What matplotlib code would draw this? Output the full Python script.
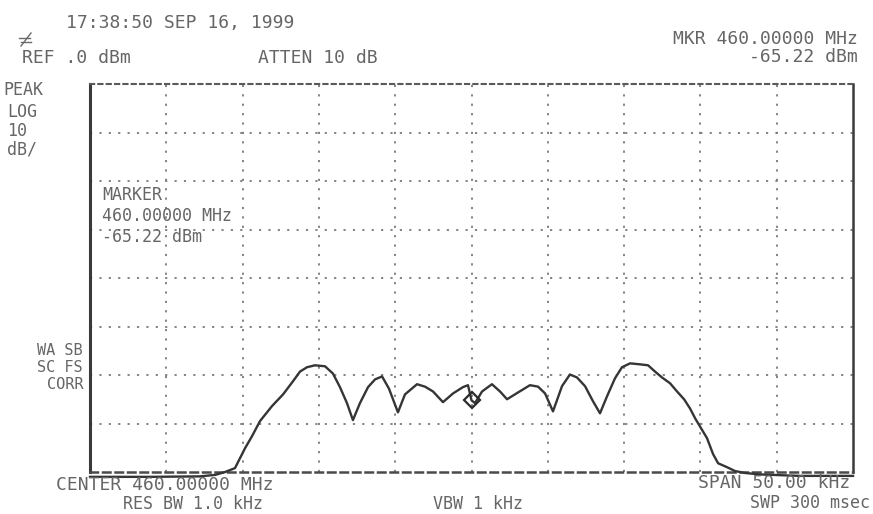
import matplotlib
matplotlib.use("Agg")
import matplotlib.pyplot as plt
from matplotlib.lines import Line2D

# Spectrum trace: offset from 460 MHz centre (kHz) and displayed level (dBm)
freq_khz = [-25.0, -21.0, -17.8, -16.8, -16.15, -15.5, -14.84, -14.38, -13.86, -13.07,
            -12.35, -11.7, -11.24, -10.78, -10.26, -9.6, -9.08, -8.62, -8.16, -7.77,
            -7.31, -6.78, -6.32, -5.86, -5.41, -4.82, -4.36, -3.57, -3.05, -2.52,
            -1.87, -1.21, -0.56, -0.23, 0.0, 0.23, 0.69, 1.34, 1.87, 2.33,
            3.05, 3.83, 4.36, 4.82, 5.34, 5.93, 6.45, 6.91, 7.44, 7.96,
            8.42, 8.88, 9.4, 9.86, 10.39, 11.04, 11.57, 12.03, 12.48, 13.01,
            13.47, 13.93, 14.32, 14.65, 14.97, 15.43, 15.83, 16.16, 16.74, 17.27,
            17.92, 18.9, 21.5, 25.0]
level_dbm = [-81.0, -81.0, -80.9, -80.6, -80.0, -79.2, -75.1, -72.6, -69.5, -66.4,
             -64.0, -61.3, -59.3, -58.4, -58.0, -58.2, -59.7, -62.5, -65.8, -69.3,
             -65.8, -62.5, -60.9, -60.3, -62.8, -67.7, -64.0, -61.9, -62.4, -63.4,
             -65.6, -63.8, -62.5, -62.1, -65.22, -65.8, -63.4, -61.9, -63.4, -65.0,
             -63.6, -62.1, -62.4, -63.8, -67.5, -62.3, -59.9, -60.5, -62.3, -65.4,
             -67.9, -64.4, -60.7, -58.4, -57.6, -57.8, -58.0, -59.3, -60.5, -61.7,
             -63.4, -65.0, -66.9, -68.9, -70.6, -73.0, -76.3, -78.2, -79.0, -79.8,
             -80.2, -80.5, -80.8, -80.8]

# Marker readout
marker_khz = 0.0
marker_dbm = -65.22

# Display settings: 10 divisions of 5 kHz, 8 divisions of 10 dB from the 0 dBm reference
span_khz = 50.0
ref_dbm = 0.0
db_per_div = 10
n_xdiv = 10
n_ydiv = 8

W, H = 873, 514
fig = plt.figure(figsize=(W / 100, H / 100), dpi=100)
fig.patch.set_facecolor("white")

left, right, top, bottom = 90, 853, 84, 472
ax = fig.add_axes([left / W, 1 - bottom / H, (right - left) / W, (bottom - top) / H])
ax.set_xlim(-span_khz / 2, span_khz / 2)
ax.set_ylim(ref_dbm - n_ydiv * db_per_div, ref_dbm)
ax.set_xticks([])
ax.set_yticks([])
ax.set_facecolor("white")

grid_kw = dict(color="#7a7a7a", lw=1.3, linestyle=(0, (1.2, 4.0)), zorder=1)
xstep = span_khz / n_xdiv
for i in range(1, n_xdiv):
    ax.axvline(-span_khz / 2 + i * xstep, **grid_kw)
for j in range(1, n_ydiv):
    ax.axhline(ref_dbm - j * db_per_div, **grid_kw)

ax.spines["left"].set(color="#3a3a3a", linewidth=2.2)
ax.spines["right"].set(color="#3a3a3a", linewidth=1.8)
ax.spines["top"].set(color="#5a5a5a", linewidth=1.5, linestyle=(0, (2, 2)))
ax.spines["bottom"].set(color="#4a4a4a", linewidth=1.8, linestyle=(0, (3, 2)))

ax.plot(freq_khz, level_dbm, color="#353535", lw=1.7, zorder=3, clip_on=False,
        solid_joinstyle="round")
ax.plot([marker_khz], [marker_dbm], marker="D", markersize=8, markerfacecolor="none",
        markeredgecolor="#2a2a2a", markeredgewidth=1.6, zorder=4)


def label(x, y, s, ha="left", size=13):
    fig.text(x / W, 1 - y / H, s, ha=ha, va="baseline", fontsize=size,
             family="DejaVu Sans Mono", color="#666666")


label(180, 28, "17:38:50 SEP 16, 1999", ha="center")
label(76, 63, "REF .0 dBm", ha="center")
label(318, 63, "ATTEN 10 dB", ha="center")
label(858, 44, "MKR 460.00000 MHz", ha="right")
label(858, 62, "-65.22 dBm", ha="right")

label(3, 95, "PEAK", size=12)
label(7, 117, "LOG", size=12)
label(7, 136, "10", size=12)
label(7, 155, "dB/", size=12)

label(83, 355, "WA SB", ha="right", size=11)
label(83, 372, "SC FS", ha="right", size=11)
label(83, 389, "CORR", ha="right", size=11)

label(102, 200, "MARKER", size=12)
label(102, 221, "460.00000 MHz", size=12)
label(102, 242, "-65.22 dBm", size=12)

label(165, 490, "CENTER 460.00000 MHz", ha="center")
label(193, 509, "RES BW 1.0 kHz", ha="center", size=12)
label(478, 509, "VBW 1 kHz", ha="center", size=12)
label(850, 488, "SPAN 50.00 kHz", ha="right")
label(870, 508, "SWP 300 msec", ha="right", size=12)

# small maker's logo under the clock line
for xs, ys in [((21, 31), (46, 33)), ((19, 30), (38, 38)), ((21, 31), (42, 42))]:
    fig.add_artist(Line2D([x / W for x in xs], [1 - y / H for y in ys],
                          color="#6a6a6a", lw=1.0))

fig.savefig("out.png", dpi=100, facecolor="white")
